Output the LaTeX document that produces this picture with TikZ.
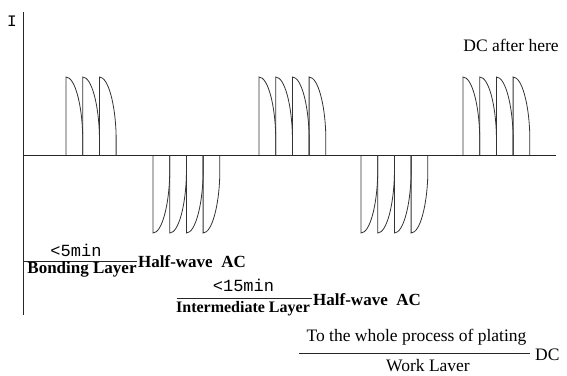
\documentclass[tikz,border=0pt]{standalone}
\usepackage{fontspec}
\setmainfont{Liberation Serif}
\setmonofont{Liberation Mono}
\usetikzlibrary{positioning}
\tikzset{
  axisline/.style={draw=black!85, line width=0.9pt},
  pulseline/.style={draw=black!80, line width=0.8pt},
  fracbar/.style={draw=black!85, line width=0.8pt},
  plainlbl/.style={inner sep=0pt, font=\fontsize{17.5}{20}\selectfont},
  boldlbl/.style={inner sep=0pt, font=\fontsize{17}{20}\selectfont\bfseries},
  monolbl/.style={inner sep=0pt, font=\fontsize{17}{20}\selectfont\ttfamily}
}

\begin{document}
\begin{tikzpicture}[x=1pt, y=-1pt]
    \useasboundingbox (0,0) rectangle (567,375);
    % axes
    \coordinate (origin) at (23,155);
    \coordinate (ytop) at (23,12);
    \coordinate (ybot) at (23,315);
    \coordinate (xend) at (556,155);
    \draw[axisline] (ytop) -- (ybot);
    \draw[axisline] (origin) -- (xend);
    \node[monolbl, font=\fontsize{16}{18}\selectfont\ttfamily] (ilbl) at (12,21) {I};
    % pulse groups: start x / last index / sign
    \foreach \gx/\nk/\sg in {66/2/1, 153/3/-1, 259/3/1, 361/3/-1, 463/3/1}{
      \foreach \k in {0,...,\nk}{
        \pgfmathsetmacro{\px}{\gx+16.7*\k}
        \draw[pulseline] (\px,155) -- (\px,{155-78*\sg})
          .. controls ({\px+9},{155-78*\sg}) and ({\px+16},{155-50*\sg}) .. ({\px+16.7},{155-20*\sg})
          -- ({\px+16.7},155);
      }
    }
    \node[plainlbl, anchor=base] (dcafter) at (511,51) {DC after here};
    % bonding layer
    \node[monolbl, anchor=base] (bondtime) at (76,256) {<5min};
    \coordinate (bondl) at (24,261);
    \coordinate (bondr) at (137,261);
    \draw[fracbar] (bondl) -- (bondr);
    \node[boldlbl, anchor=base] (bondname) at (82,273) {Bonding Layer};
    \node[boldlbl, anchor=base west] (bondmode) at (138,267) {Half-wave\ \ AC};
    % intermediate layer
    \node[monolbl, anchor=base] (midtime) at (243.5,291) {<15min};
    \coordinate (midl) at (177,298);
    \coordinate (midr) at (312,298);
    \draw[fracbar] (midl) -- (midr);
    \node[boldlbl, anchor=base, font=\fontsize{16}{20}\selectfont\bfseries] (midname) at (243,312) {Intermediate Layer};
    \node[boldlbl, anchor=base west] (midmode) at (313,305) {Half-wave\ \ AC};
    % work layer
    \node[plainlbl, anchor=base] (worktime) at (416.5,341) {To the whole process of plating};
    \coordinate (workl) at (299,353);
    \coordinate (workr) at (530,353);
    \draw[fracbar] (workl) -- (workr);
    \node[plainlbl, anchor=base] (workname) at (428,371) {Work Laver};
    \node[plainlbl, anchor=base west] (workmode) at (535,360) {DC};
\end{tikzpicture}
\end{document}
